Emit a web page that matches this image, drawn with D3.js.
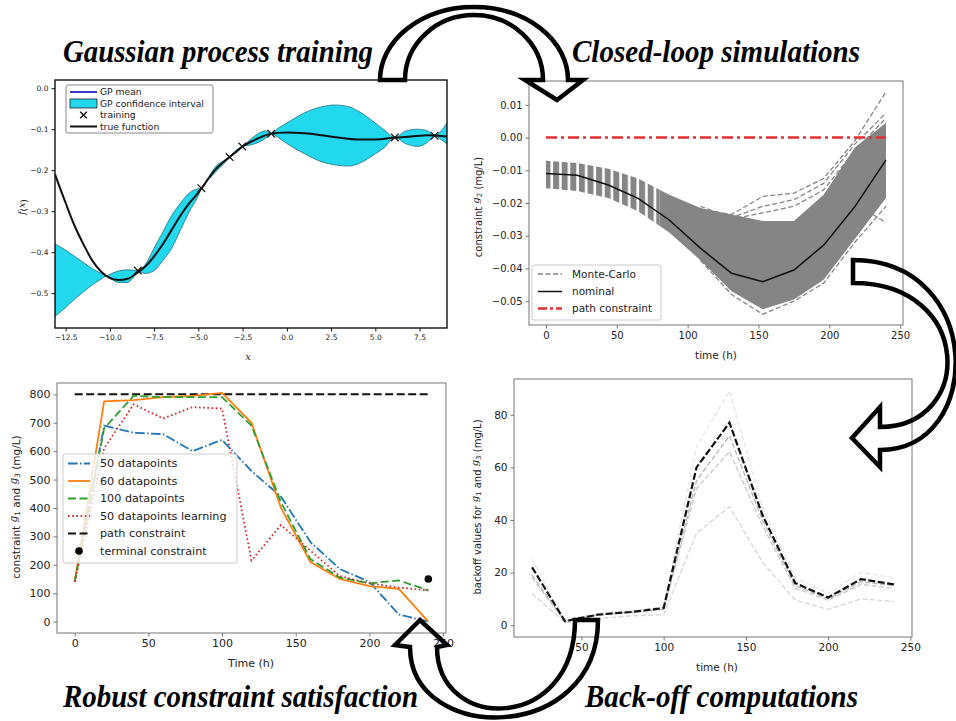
<!DOCTYPE html>
<html>
<head>
<meta charset="utf-8">
<title>GP back-off loop</title>
<script src="https://cdn.jsdelivr.net/npm/d3@7/dist/d3.min.js"></script>
<style>
  html, body { margin: 0; padding: 0; background: #ffffff; }
  svg { display: block; }
</style>
</head>
<body>
<div id="figure"></div>
<script>
// --- Gaussian process training (top left) ---
const gp_true_x = [-13.1, -12.5, -12, -11.5, -11, -10.5, -10, -9.5, -9, -8.5, -8, -7.5, -7, -6.5, -6, -5.5, -5, -4.5, -4, -3.5, -3, -2.5, -2, -1.5, -1, -0.5, 0, 1, 2, 3, 4, 5, 6, 7, 8, 9.05];
const gp_true_y = [-0.21, -0.28, -0.335, -0.38, -0.42, -0.447, -0.463, -0.468, -0.465, -0.452, -0.435, -0.41, -0.38, -0.345, -0.31, -0.28, -0.255, -0.225, -0.197, -0.177, -0.16, -0.142, -0.13, -0.12, -0.112, -0.109, -0.108, -0.11, -0.115, -0.121, -0.125, -0.125, -0.121, -0.118, -0.115, -0.118];
const gp_band_x = [-13.1, -12.5, -12, -11.5, -11, -10.5, -10.2, -9.9, -9.5, -9, -8.7, -8.42, -8, -7.5, -7, -6.5, -6, -5.5, -5, -4.83, -4.4, -4, -3.6, -3.23, -2.9, -2.52, -2, -1.5, -1.2, -0.88, -0.5, 0, 1, 2, 2.7, 3.5, 4, 5, 5.5, 6.1, 6.7, 7.4, 8, 8.35, 8.7, 9.05];
const gp_band_lo = [-0.557, -0.535, -0.515, -0.497, -0.48, -0.466, -0.458, -0.466, -0.474, -0.474, -0.463, -0.447, -0.452, -0.445, -0.42, -0.39, -0.345, -0.3, -0.262, -0.244, -0.222, -0.203, -0.186, -0.168, -0.158, -0.142, -0.138, -0.13, -0.122, -0.111, -0.12, -0.135, -0.16, -0.18, -0.187, -0.19, -0.185, -0.16, -0.145, -0.12, -0.135, -0.142, -0.13, -0.116, -0.125, -0.136];
const gp_band_hi = [-0.38, -0.395, -0.41, -0.425, -0.44, -0.452, -0.458, -0.452, -0.446, -0.443, -0.444, -0.445, -0.43, -0.39, -0.35, -0.31, -0.28, -0.255, -0.245, -0.244, -0.215, -0.19, -0.178, -0.168, -0.152, -0.142, -0.123, -0.108, -0.104, -0.111, -0.098, -0.085, -0.06, -0.045, -0.041, -0.045, -0.055, -0.085, -0.102, -0.12, -0.105, -0.1, -0.105, -0.116, -0.105, -0.084];
const gp_train_x = [-8.42, -4.83, -3.23, -2.52, -0.88, 6.1, 8.35];
const gp_train_y = [-0.445, -0.244, -0.168, -0.142, -0.111, -0.12, -0.116];
const gp_xticks = [-12.5, -10, -7.5, -5, -2.5, 0, 2.5, 5, 7.5];
const gp_yticks = [0, -0.1, -0.2, -0.3, -0.4, -0.5];

// --- closed-loop simulations (top right) ---
const cl_time = [0, 22, 44, 65, 87, 109, 131, 153, 175, 196, 218, 240];
const cl_nominal = [-0.011, -0.0115, -0.0145, -0.0186, -0.0252, -0.0338, -0.0415, -0.0441, -0.0405, -0.0329, -0.0211, -0.0068];
const cl_mc_upper = [-0.0071, -0.0078, -0.0095, -0.0125, -0.0175, -0.0215, -0.0235, -0.0255, -0.0255, -0.0175, -0.003, 0.0045];
const cl_mc_lower = [-0.0155, -0.0163, -0.0185, -0.0225, -0.029, -0.0375, -0.047, -0.0525, -0.0495, -0.0435, -0.031, -0.0185];
const cl_tail_time = [109, 131, 153, 175, 196, 218, 240];
const cl_tail_a = [-0.022, -0.0235, -0.018, -0.017, -0.0125, -0.001, 0.014];
const cl_tail_b = [-0.022, -0.0245, -0.021, -0.019, -0.014, -0.002, 0.0075];
const cl_tail_c = [-0.0225, -0.025, -0.023, -0.021, -0.016, -0.004, 0.006];
const cl_tail_d = [-0.0375, -0.048, -0.054, -0.05, -0.0445, -0.032, -0.021];
const cl_tail_e = [-0.021, -0.0245, -0.0275, -0.0285, -0.027, -0.02, -0.026];
const cl_path_constraint = 0;
const cl_xticks = [0, 50, 100, 150, 200, 250];
const cl_yticks = [0.01, 0, -0.01, -0.02, -0.03, -0.04, -0.05];

// --- robust constraint satisfaction (bottom left) ---
const rc_time = [0, 20, 40, 60, 80, 100, 120, 140, 160, 180, 200, 220, 240];
const rc_50 = [140, 690, 665, 660, 600, 640, 530, 440, 280, 185, 140, 25, 0];
const rc_60 = [140, 775, 780, 790, 795, 805, 700, 400, 210, 150, 125, 115, 0];
const rc_100 = [140, 680, 795, 790, 790, 790, 690, 420, 220, 155, 135, 145, 110];
const rc_50_learning = [140, 610, 765, 715, 755, 750, 215, 340, 250, 160, 135, 120, 110];
const rc_path_constraint = 800;
const rc_terminal = [240, 150];
const rc_xticks = [0, 50, 100, 150, 200, 250];
const rc_yticks = [0, 100, 200, 300, 400, 500, 600, 700, 800];

// --- back-off computations (bottom right) ---
const bo_time = [20, 40, 60, 80, 100, 120, 140, 160, 180, 200, 220, 240];
const bo_final = [22, 1.5, 4, 5, 6.5, 60, 77, 42, 16, 10.5, 17.5, 15.5];
const bo_iter_1 = [25, 2, 4.5, 5.5, 7, 68, 89, 45, 18, 12, 20, 18];
const bo_iter_2 = [19, 1.5, 4, 5, 6, 55, 72, 40, 15, 10, 16.5, 15];
const bo_iter_3 = [18, 1.5, 3.8, 4.8, 6, 52, 66, 38, 14, 9.5, 15.5, 14];
const bo_iter_4 = [12, 1, 2.5, 3.5, 4, 35, 45, 24, 9.5, 6, 10, 9];
const bo_xticks = [50, 100, 150, 200, 250];
const bo_yticks = [0, 20, 40, 60, 80];

const FONT = '"DejaVu Sans", sans-serif';
const TITLE_FONT = '"Liberation Serif", "DejaVu Serif", serif';

const svg = d3.select("#figure").append("svg")
  .attr("width", 956)
  .attr("height", 721);
const defs = svg.append("defs");

/**
 * sets up scales, a clipped plot group and a group for the axes
 */
const makePanel = p => {
  const x = d3.scaleLinear().domain(p.xdomain).range([p.left, p.right]);
  const y = d3.scaleLinear().domain(p.ydomain).range([p.bottom, p.top]);
  defs.append("clipPath").attr("id", `clip-${p.id}`)
    .append("rect")
    .attr("x", p.left).attr("y", p.top)
    .attr("width", p.right - p.left).attr("height", p.bottom - p.top);
  const g = svg.append("g").attr("class", p.id);
  const plot = g.append("g").attr("clip-path", `url(#clip-${p.id})`);
  return {x, y, g, plot, p};
};

/**
 * ticks, tick labels and the frame (drawn after the data, like matplotlib spines)
 */
const finishPanel = ({x, y, g, p}) => {
  const xa = g.append("g")
    .attr("transform", `translate(0,${p.bottom})`)
    .call(d3.axisBottom(x).tickValues(p.xticks).tickFormat(p.xfmt).tickSize(3.5).tickPadding(3));
  const ya = g.append("g")
    .attr("transform", `translate(${p.left},0)`)
    .call(d3.axisLeft(y).tickValues(p.yticks).tickFormat(p.yfmt).tickSize(3.5).tickPadding(3));
  [xa, ya].forEach(a => {
    a.select(".domain").remove();
    a.selectAll(".tick line").attr("stroke", p.frame);
    a.selectAll(".tick text")
      .attr("font-family", FONT)
      .attr("font-size", p.font)
      .attr("fill", "#222");
  });
  g.append("rect")
    .attr("x", p.left).attr("y", p.top)
    .attr("width", p.right - p.left).attr("height", p.bottom - p.top)
    .attr("fill", "none")
    .attr("stroke", p.frame)
    .attr("stroke-width", p.frame_width);
};

// label made of parts: plain text, italic math letters and subscripts
const addLabel = (parts, x, y, size, rotate = false) => {
  const t = svg.append("text")
    .attr("transform", `translate(${x},${y})${rotate ? " rotate(-90)" : ""}`)
    .attr("text-anchor", "middle")
    .attr("font-family", FONT)
    .attr("font-size", size)
    .attr("fill", "#222");
  let shift = 0;
  parts.forEach(part => {
    const span = t.append("tspan");
    if(typeof part === "string") {
      span.text(part);
    } else if(part.sub) {
      span.attr("font-size", size * 0.7).text(part.sub);
    } else {
      span.attr("font-style", "italic").attr("font-family", '"DejaVu Serif", serif').text(part.it);
    }
    const target = part.sub ? size * 0.25 : 0;
    if(target !== shift) {
      span.attr("dy", target - shift);
      shift = target;
    }
  });
};

// legend box with line / patch / marker handles
const addLegend = (box, items, rows, handle, text_x, size) => {
  const lg = svg.append("g");
  lg.append("rect")
    .attr("x", box[0]).attr("y", box[1])
    .attr("width", box[2] - box[0]).attr("height", box[3] - box[1])
    .attr("rx", 2)
    .attr("fill", "#fff").attr("fill-opacity", 0.8)
    .attr("stroke", box[4]).attr("stroke-width", 1);
  items.forEach((item, i) => {
    const yy = rows[i];
    if(item.kind === "line") {
      lg.append("line")
        .attr("x1", handle[0]).attr("x2", handle[1]).attr("y1", yy).attr("y2", yy)
        .attr("stroke", item.color).attr("stroke-width", item.width)
        .attr("stroke-dasharray", item.dash || null);
    } else if(item.kind === "patch") {
      lg.append("rect")
        .attr("x", handle[0]).attr("y", yy - 4.5)
        .attr("width", handle[1] - handle[0]).attr("height", 9)
        .attr("fill", item.color).attr("stroke", "#222").attr("stroke-width", 0.8);
    } else if(item.kind === "cross") {
      const cx = (handle[0] + handle[1]) / 2;
      lg.append("path")
        .attr("d", d3.symbol(d3.symbolX, 30)())
        .attr("transform", `translate(${cx},${yy})`)
        .attr("stroke", "#111").attr("stroke-width", 1.4);
    } else if(item.kind === "dot") {
      lg.append("circle")
        .attr("cx", (handle[0] + handle[1]) / 2).attr("cy", yy).attr("r", 3.8)
        .attr("fill", "#000");
    }
    lg.append("text")
      .attr("x", text_x).attr("y", yy).attr("dy", "0.35em")
      .attr("font-family", FONT).attr("font-size", size).attr("fill", "#222")
      .text(item.label);
  });
};

// ================= Gaussian process training =================
const gp = makePanel({
  id: "gp", left: 55, right: 447, top: 80, bottom: 328,
  xdomain: [-13.1, 9.05], ydomain: [-0.585, 0.02],
  xticks: gp_xticks, yticks: gp_yticks,
  xfmt: d3.format(".1f"), yfmt: d3.format(".1f"),
  frame: "#111", frame_width: 1.4, font: 7.5
});

const gp_band = gp_band_x.map((v, i) => ({x: v, lo: gp_band_lo[i], hi: gp_band_hi[i]}));
gp.plot.append("path")
  .datum(gp_band)
  .attr("d", d3.area().x(d => gp.x(d.x)).y0(d => gp.y(d.lo)).y1(d => gp.y(d.hi)).curve(d3.curveMonotoneX))
  .attr("fill", "#22d8ee")
  .attr("stroke", "#1f6f7c")
  .attr("stroke-width", 0.8);

gp.plot.append("path")
  .datum(gp_true_x.map((v, i) => [v, gp_true_y[i]]))
  .attr("d", d3.line().x(d => gp.x(d[0])).y(d => gp.y(d[1])).curve(d3.curveMonotoneX))
  .attr("fill", "none")
  .attr("stroke", "#111")
  .attr("stroke-width", 2);

gp.plot.selectAll("path.training")
  .data(gp_train_x.map((v, i) => [v, gp_train_y[i]]))
  .enter()
  .append("path")
  .classed("training", true)
  .attr("d", d3.symbol(d3.symbolX, 40)())
  .attr("transform", d => `translate(${gp.x(d[0])},${gp.y(d[1])})`)
  .attr("stroke", "#111")
  .attr("stroke-width", 1.2);

finishPanel(gp);
addLegend([66, 85, 213, 133, "#888"], [
  {label: "GP mean", kind: "line", color: "#3535c8", width: 2},
  {label: "GP confidence interval", kind: "patch", color: "#22d8ee"},
  {label: "training", kind: "cross"},
  {label: "true function", kind: "line", color: "#111", width: 2}
], [92, 103.5, 115, 126.5], [70, 97], 100, 9.2);
addLabel([{it: "f"}, "(", {it: "x"}, ")"], 25, 207, 9, true);
addLabel([{it: "x"}], 248, 360, 10);

// ================= closed-loop simulations =================
const cl = makePanel({
  id: "cl", left: 529, right: 903, top: 81, bottom: 325,
  xdomain: [-12, 252], ydomain: [-0.0573, 0.0173],
  xticks: cl_xticks, yticks: cl_yticks,
  xfmt: d3.format("d"), yfmt: d3.format(".2f"),
  frame: "#777", frame_width: 1, font: 10
});

// stripes from the aligned dashes of the Monte-Carlo runs
defs.append("pattern")
  .attr("id", "mc-stripes")
  .attr("patternUnits", "userSpaceOnUse")
  .attr("x", cl.x(0) - 1.5)
  .attr("width", 8.6).attr("height", 40)
  .append("rect")
  .attr("width", 6).attr("height", 40)
  .attr("fill", "#858585");

const mc_area = d3.area()
  .x(d => cl.x(d.t)).y0(d => cl.y(d.lo)).y1(d => cl.y(d.hi));
const mc_band = cl_time.map((t, i) => ({t, lo: cl_mc_lower[i], hi: cl_mc_upper[i]}));

defs.append("clipPath").attr("id", "mc-left")
  .append("rect").attr("x", cl.x(0) - 2).attr("y", 81).attr("width", cl.x(80) - cl.x(0) + 2).attr("height", 244);
defs.append("clipPath").attr("id", "mc-right")
  .append("rect").attr("x", cl.x(80)).attr("y", 81).attr("width", cl.x(240) - cl.x(80)).attr("height", 244);

cl.plot.append("path").datum(mc_band)
  .attr("d", mc_area)
  .attr("clip-path", "url(#mc-left)")
  .attr("fill", "url(#mc-stripes)");
cl.plot.append("path").datum(mc_band)
  .attr("d", mc_area)
  .attr("clip-path", "url(#mc-right)")
  .attr("fill", "#858585");

const cl_line = d3.line().x(d => cl.x(d[0])).y(d => cl.y(d[1]));
[cl_tail_a, cl_tail_b, cl_tail_c, cl_tail_d, cl_tail_e].forEach(run => {
  cl.plot.append("path")
    .datum(cl_tail_time.map((t, i) => [t, run[i]]))
    .attr("d", cl_line)
    .attr("fill", "none")
    .attr("stroke", "#858585")
    .attr("stroke-width", 1.3)
    .attr("stroke-dasharray", "5,2.5");
});

cl.plot.append("path")
  .datum(cl_time.map((t, i) => [t, cl_nominal[i]]))
  .attr("d", cl_line)
  .attr("fill", "none")
  .attr("stroke", "#111")
  .attr("stroke-width", 1.5);

cl.plot.append("line")
  .attr("x1", cl.x(0)).attr("x2", cl.x(240))
  .attr("y1", cl.y(cl_path_constraint)).attr("y2", cl.y(cl_path_constraint))
  .attr("stroke", "#e03030")
  .attr("stroke-width", 2.5)
  .attr("stroke-dasharray", "11,4,3,4");

finishPanel(cl);
addLegend([532, 265, 661, 320, "#ccc"], [
  {label: "Monte-Carlo", kind: "line", color: "#858585", width: 1.3, dash: "5,2.5"},
  {label: "nominal", kind: "line", color: "#111", width: 1.5},
  {label: "path constraint", kind: "line", color: "#e03030", width: 2.5, dash: "9,3,3,3"}
], [274, 291.5, 308.5], [538, 562], 572, 10.5);
addLabel(["constraint ", {it: "g"}, {sub: "2"}, " (mg/L)"], 479, 207, 10, true);
addLabel(["time (h)"], 716, 356, 10.5);

// ================= robust constraint satisfaction =================
const rc = makePanel({
  id: "rc", left: 57, right: 446, top: 383, bottom: 633,
  xdomain: [-12, 252], ydomain: [-40, 840],
  xticks: rc_xticks, yticks: rc_yticks,
  xfmt: d3.format("d"), yfmt: d3.format("d"),
  frame: "#777", frame_width: 1, font: 11
});

const rc_line = d3.line().x(d => rc.x(d[0])).y(d => rc.y(d[1]));
const rc_series = [
  {values: rc_50, color: "#1f77b4", dash: "9.6,2.4,1.5,2.4", label: "50 datapoints"},
  {values: rc_60, color: "#ff7f0e", dash: null, label: "60 datapoints"},
  {values: rc_100, color: "#2ca02c", dash: "8,3.5", label: "100 datapoints"},
  {values: rc_50_learning, color: "#d62728", dash: "1.6,2.6", label: "50 datapoints learning"}
];

rc.plot.append("line")
  .attr("x1", rc.x(0)).attr("x2", rc.x(240))
  .attr("y1", rc.y(rc_path_constraint)).attr("y2", rc.y(rc_path_constraint))
  .attr("stroke", "#111")
  .attr("stroke-width", 2)
  .attr("stroke-dasharray", "8,3.5");

rc_series.forEach(s => {
  rc.plot.append("path")
    .datum(rc_time.map((t, i) => [t, s.values[i]]))
    .attr("d", rc_line)
    .attr("fill", "none")
    .attr("stroke", s.color)
    .attr("stroke-width", 1.8)
    .attr("stroke-dasharray", s.dash);
});

rc.plot.append("circle")
  .attr("cx", rc.x(rc_terminal[0]))
  .attr("cy", rc.y(rc_terminal[1]))
  .attr("r", 3.8)
  .attr("fill", "#000");

finishPanel(rc);
addLegend([63, 454, 237, 563, "#ccc"], [
  ...rc_series.map(s => ({label: s.label, kind: "line", color: s.color, width: 1.8, dash: s.dash})),
  {label: "path constraint", kind: "line", color: "#111", width: 2, dash: "8,3.5"},
  {label: "terminal constraint", kind: "dot"}
], [463.5, 481, 498.5, 516, 533.5, 551], [68, 90], 100, 11.2);
addLabel(["constraint ", {it: "g"}, {sub: "1"}, " and ", {it: "g"}, {sub: "3"}, " (mg/L)"], 17, 507, 10.5, true);
addLabel(["Time (h)"], 251, 664, 11);

// ================= back-off computations =================
const bo = makePanel({
  id: "bo", left: 514, right: 912, top: 379, bottom: 637,
  xdomain: [9, 251], ydomain: [-4.5, 93.6],
  xticks: bo_xticks, yticks: bo_yticks,
  xfmt: d3.format("d"), yfmt: d3.format("d"),
  frame: "#777", frame_width: 1, font: 10.5
});

const bo_line = d3.line().x(d => bo.x(d[0])).y(d => bo.y(d[1]));
[
  {values: bo_iter_1, color: "#e6e6e6"},
  {values: bo_iter_4, color: "#d6d6d6"},
  {values: bo_iter_3, color: "#c8c8c8"},
  {values: bo_iter_2, color: "#b5b5b5"}
].forEach(run => {
  bo.plot.append("path")
    .datum(bo_time.map((t, i) => [t, run.values[i]]))
    .attr("d", bo_line)
    .attr("fill", "none")
    .attr("stroke", run.color)
    .attr("stroke-width", 1.3)
    .attr("stroke-dasharray", "5,2.5");
});

bo.plot.append("path")
  .datum(bo_time.map((t, i) => [t, bo_final[i]]))
  .attr("d", bo_line)
  .attr("fill", "none")
  .attr("stroke", "#111")
  .attr("stroke-width", 2.2)
  .attr("stroke-dasharray", "7,2.5");

finishPanel(bo);
addLabel(["backoff values for ", {it: "g"}, {sub: "1"}, " and ", {it: "g"}, {sub: "3"}, " (mg/L)"], 478, 507, 10, true);
addLabel(["time (h)"], 717, 668, 10.5);

// ================= titles and loop arrows =================
const titles = [
  {text: "Gaussian process training", x: 63, y: 62, len: 310},
  {text: "Closed-loop simulations", x: 572, y: 62, len: 288},
  {text: "Robust constraint satisfaction", x: 63, y: 707, len: 355},
  {text: "Back-off computations", x: 585, y: 707, len: 273}
];
svg.selectAll("text.title")
  .data(titles).enter()
  .append("text")
  .classed("title", true)
  .attr("x", d => d.x)
  .attr("y", d => d.y)
  .attr("textLength", d => d.len)
  .attr("lengthAdjust", "spacingAndGlyphs")
  .attr("font-family", TITLE_FONT)
  .attr("font-weight", "bold")
  .attr("font-style", "italic")
  .attr("font-size", 32)
  .attr("fill", "#000")
  .text(d => d.text);

const arrows = [
  "M380,80 A94,73 0 0 1 568,80 L583,80 L557,100 L525,80 L543,80 A69,65 0 0 0 405,80 Z",
  "M853,260 C985,260 985,450 880,450 L880,467 L852,438 L880,407 L880,427 C974,427 974,283 853,283 Z",
  "M598,620 C598,745 410,745 410,647 L395,645 L420,620 L447,645 L437,647 C437,733 575,733 575,620 Z"
];
svg.selectAll("path.arrow")
  .data(arrows).enter()
  .append("path")
  .classed("arrow", true)
  .attr("d", d => d)
  .attr("fill", "none")
  .attr("stroke", "#000")
  .attr("stroke-width", 4.5)
  .attr("stroke-linejoin", "miter");
</script>
</body>
</html>
